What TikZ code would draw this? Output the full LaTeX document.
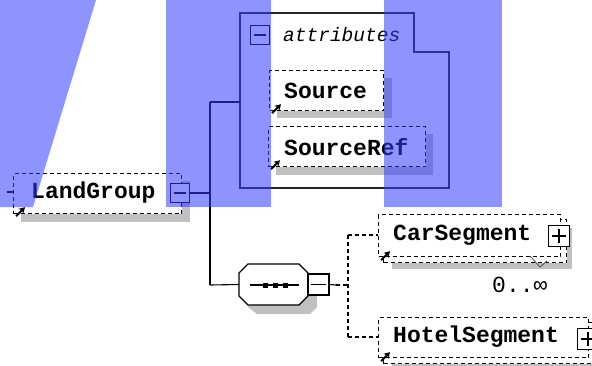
\documentclass[tikz,border=0pt]{standalone}
\usepackage{fontspec}
\setmainfont{Liberation Serif}
\newfontfamily\monof{Liberation Mono}
\usetikzlibrary{arrows.meta}
\definecolor{shadowc}{RGB}{192,192,192}
\definecolor{ovblue}{RGB}{50,60,255}
\tikzset{
  elbox/.style={draw=black, fill=white, line width=1.2pt, dash pattern=on 4pt off 3pt, inner sep=0pt, anchor=north west},
  ename/.style={font=\monof\bfseries\fontsize{23pt}{25pt}\selectfont, anchor=west, inner sep=0pt},
  conn/.style={draw=black, line width=1.1pt},
  dconn/.style={draw=black, line width=1.1pt, dash pattern=on 4pt off 3pt},
  pmbox/.style={draw=black, fill=white, line width=1.1pt, minimum size=#1, inner sep=0pt},
  refarrow/.style={line width=2pt, -{Stealth[length=6pt,width=7pt]}},
  overlay/.style={fill=ovblue, fill opacity=0.55, draw=none}
}
\begin{document}
\begin{tikzpicture}[x=1pt,y=-1pt]
\useasboundingbox (0,0) rectangle (592,365);

% ---------- LandGroup ----------
\fill[shadowc] (21,181) rectangle (190,222);
\node[elbox, minimum width=168pt, minimum height=40pt] (landgroup) at (13,173) {};
\node[ename] (lgtext) at (31,193) {LandGroup};
\coordinate (lgstub) at (7,192);
\draw[conn] (lgstub) -- (landgroup.west |- lgstub);
\draw[refarrow] ([xshift=3pt,yshift=-2pt]landgroup.south west) -- ++(9,-9);
\node[pmbox=19pt] (lgminus) at (180,193) {};
\draw[line width=1.1pt] ([xshift=4pt]lgminus.west) -- ([xshift=-4pt]lgminus.east);

% junction lines
\coordinate (j1) at (210,193);
\coordinate (j2) at (210,102);
\coordinate (j3) at (210,285);
\draw[conn] (lgminus.east) -- (j1);
\draw[conn] (j2) -- (j3);

% ---------- attributes ----------
\coordinate (attrw) at (240,102);
\draw[line width=1.7pt, draw=black!85] (240,13) -- (414,13) -- (414,52) -- (449,52) -- (449,188) -- (240,188) -- cycle;
\draw[conn] (j2) -- (attrw);
\node[pmbox=19pt] (attrminus) at (260,35) {};
\draw[line width=1.1pt] ([xshift=4pt]attrminus.west) -- ([xshift=-4pt]attrminus.east);
\node[font=\monof\itshape\fontsize{19.5pt}{21pt}\selectfont, anchor=west, inner sep=0pt] (attrlabel) at (283,35) {attributes};

% Source
\fill[shadowc] (277,78) rectangle (392,118);
\node[elbox, minimum width=114pt, minimum height=40pt] (source) at (269,70) {};
\node[ename] (sourcetext) at (284,91) {Source};
\draw[refarrow] ([xshift=3pt,yshift=-2pt]source.south west) -- ++(9,-9);

% SourceRef
\fill[shadowc] (276,134) rectangle (433,175);
\node[elbox, minimum width=157pt, minimum height=40pt] (sourceref) at (268,126) {};
\node[ename] (sourcereftext) at (284,147) {SourceRef};
\draw[refarrow] ([xshift=3pt,yshift=-2pt]sourceref.south west) -- ++(9,-9);

% ---------- sequence ----------
\fill[shadowc] (248,273) -- (257,273) -- (310,273) -- (317,280) -- (317,307) -- (310,314) -- (257,314) -- (248,307) -- cycle;
\filldraw[fill=white, draw=black, line width=1.1pt] (239,273) -- (248,264) -- (299,264) -- (308,273) -- (308,296) -- (299,305) -- (248,305) -- (239,296) -- cycle;
\node[inner sep=0pt, minimum width=69pt, minimum height=41pt] (seq) at (273.5,284.5) {};
\draw[line width=1.1pt] (250,285) -- (299,285);
\foreach \sx in {265,275,285} \fill[black] (\sx-2.5,282.5) rectangle (\sx+2.5,287.5);
\node[pmbox=21pt] (seqminus) at (318.5,284.5) {};
\draw[line width=1.1pt] ([xshift=4pt]seqminus.west) -- ([xshift=-4pt]seqminus.east);
\draw[conn] (j3) -- (seq.west);
\coordinate (s1) at (336,285);
\coordinate (s2) at (348,285);
\coordinate (vtop) at (348,235);
\coordinate (vbot) at (348,337);
\draw[conn] (seqminus.east) -- (s1);
\draw[dconn] (s1) -- (s2);
\draw[dconn] (vtop) -- (vbot);

% ---------- CarSegment ----------
\fill[shadowc] (392,228) rectangle (572,269);
\node[elbox, minimum width=183pt, minimum height=43pt] (carback) at (383,219) {};
\node[elbox, minimum width=182pt, minimum height=42pt] (car) at (378,214) {};
\node[ename] (cartext) at (393,235) {CarSegment};
\draw[refarrow] ([xshift=3pt,yshift=-3pt]car.south west) -- ++(9,-9);
\node[pmbox=21pt] (carplus) at (559,236) {};
\draw[line width=1.1pt] ([xshift=4pt]carplus.west) -- ([xshift=-4pt]carplus.east);
\draw[line width=1.1pt] ([yshift=-4pt]carplus.north) -- ([yshift=4pt]carplus.south);
\draw[line width=0.8pt, draw=black!70] (530,256) -- (540,267) -- (547,261);
\node[font=\monof\fontsize{23pt}{25pt}\selectfont, anchor=west, inner sep=0pt] (carocc) at (492,285) {0..∞};
\draw[dconn] (vtop) -- (car.west |- vtop);

% ---------- HotelSegment ----------
\fill[shadowc] (392,331) rectangle (600,372);
\node[elbox, minimum width=213pt, minimum height=41pt] (hotelback) at (383,322) {};
\node[elbox, minimum width=210pt, minimum height=40pt] (hotel) at (378,317) {};
\node[ename] (hoteltext) at (393,337) {HotelSegment};
\draw[refarrow] ([xshift=3pt,yshift=-3pt]hotel.south west) -- ++(9,-9);
\node[pmbox=21pt] (hotelplus) at (588,339) {};
\draw[line width=1.1pt] ([xshift=4pt]hotelplus.west) -- ([xshift=-4pt]hotelplus.east);
\draw[line width=1.1pt] ([yshift=-4pt]hotelplus.north) -- ([yshift=4pt]hotelplus.south);
\draw[dconn] (vbot) -- (hotel.west |- vbot);

% ---------- blue overlays ----------
\fill[overlay] (0,0) -- (96,0) -- (33,207) -- (0,207) -- cycle;
\fill[overlay] (166,0) rectangle (271,207);
\fill[overlay] (384,0) rectangle (502,207);
\end{tikzpicture}
\end{document}
